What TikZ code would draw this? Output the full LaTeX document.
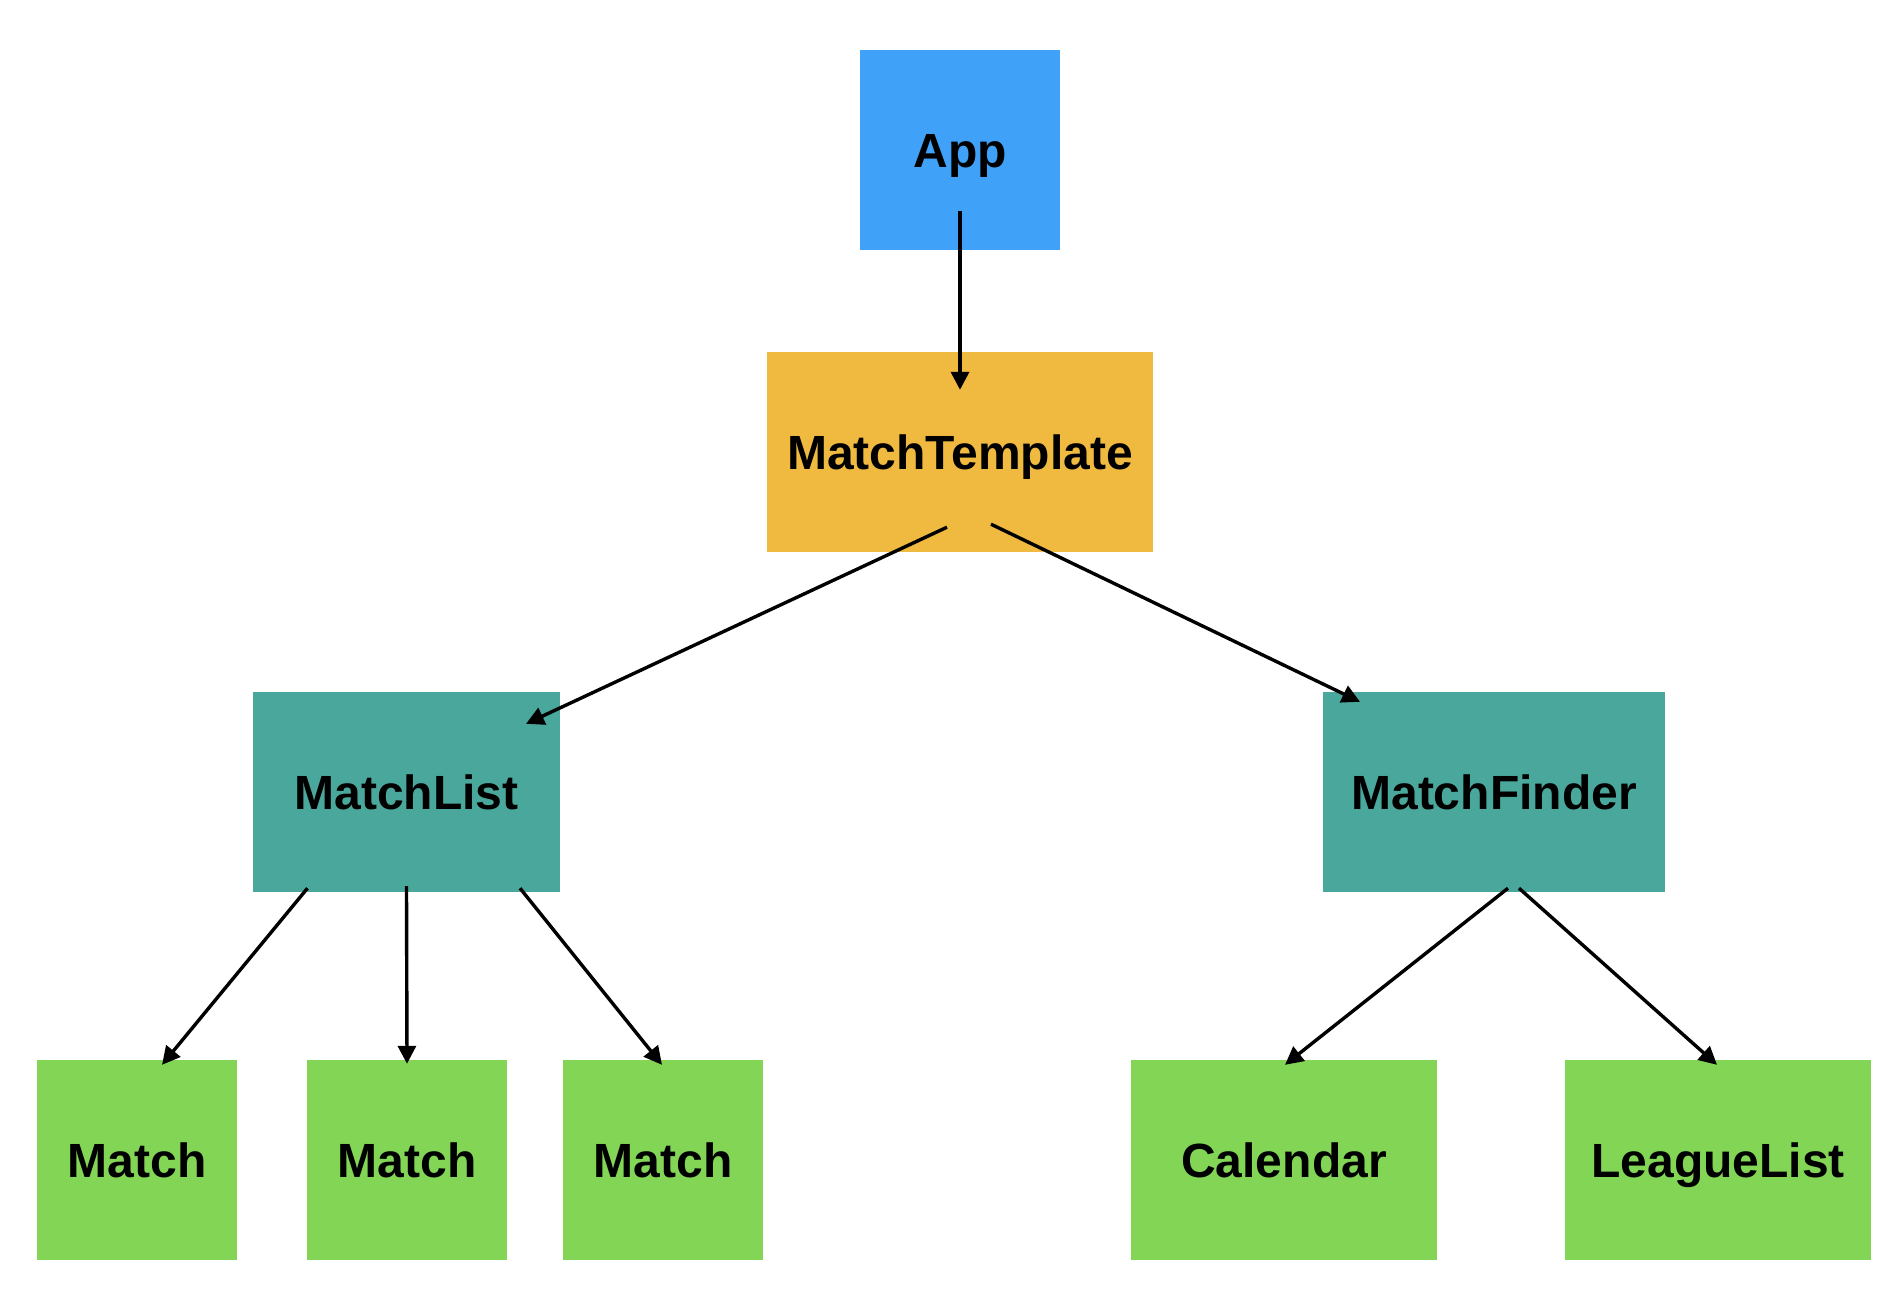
\documentclass[tikz,border=0pt]{standalone}
\usepackage{fontspec}
\setmainfont{Liberation Sans}
\usetikzlibrary{arrows.meta}
\definecolor{cblue}{HTML}{3FA1F8}
\definecolor{cyellow}{HTML}{F0BA40}
\definecolor{cteal}{HTML}{4AA79C}
\definecolor{cgreen}{HTML}{83D556}
\begin{document}
\begin{tikzpicture}[x=1pt,y=-1pt,
  box/.style={rectangle,inner sep=0pt,minimum height=200pt,
    text height=34.4pt,text depth=0pt,
    font=\fontsize{48}{58}\selectfont\bfseries},
  arr/.style={line width=3.4pt,-{Triangle[length=18pt,width=18pt]}}]
\useasboundingbox (0,0) rectangle (1904,1294);
\node[box,fill=cblue,minimum width=200pt] (app) at (960,150) {App};
\node[box,fill=cyellow,minimum width=386pt] (mt) at (960,452) {MatchTemplate};
\node[box,fill=cteal,minimum width=307pt] (ml) at (406.5,792) {MatchList};
\node[box,fill=cteal,minimum width=342pt] (mf) at (1494,792) {MatchFinder};
\node[box,fill=cgreen,minimum width=200pt] (m1) at (137,1160) {Match};
\node[box,fill=cgreen,minimum width=200pt] (m2) at (407,1160) {Match};
\node[box,fill=cgreen,minimum width=200pt] (m3) at (663,1160) {Match};
\node[box,fill=cgreen,minimum width=306pt] (cal) at (1284,1160) {Calendar};
\node[box,fill=cgreen,minimum width=306pt] (ll) at (1718,1160) {LeagueList};
\draw[arr] ([shift={(0,-39)}]app.south) -- ([shift={(0,38)}]mt.north);
\draw[arr] ([shift={(-13,-25)}]mt.south) -- ([shift={(119.5,32)}]ml.north);
\draw[arr] ([shift={(31,-28)}]mt.south) -- ([shift={(-134,10)}]mf.north);
\draw[arr] ([shift={(-99,-4)}]ml.south) -- ([shift={(25,5)}]m1.north);
\draw[arr] ([shift={(0,-6)}]ml.south) -- ([shift={(0,4)}]m2.north);
\draw[arr] ([shift={(113.5,-4)}]ml.south) -- ([shift={(-1,5)}]m3.north);
\draw[arr] ([shift={(14,-4)}]mf.south) -- ([shift={(1,5)}]cal.north);
\draw[arr] ([shift={(25,-4)}]mf.south) -- ([shift={(-1,5)}]ll.north);
\end{tikzpicture}
\end{document}
